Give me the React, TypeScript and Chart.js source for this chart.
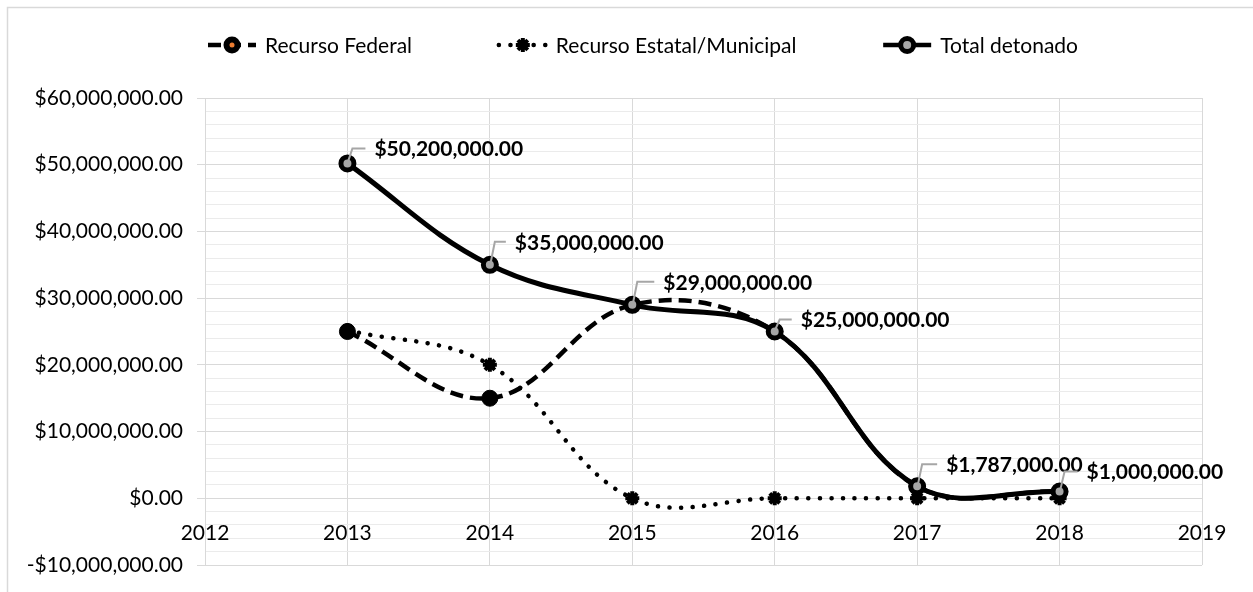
import React, { useEffect, useRef } from 'react';
import { Chart, registerables } from 'chart.js';

Chart.register(...registerables);

// ---------- data ----------
const years = [2013, 2014, 2015, 2016, 2017, 2018];
const federal = [25000000, 15000000, 29000000, 25000000, 1787000, 1000000];
const estatal = [25200000, 20000000, 0, 0, 0, 0];
const total = [50200000, 35000000, 29000000, 25000000, 1787000, 1000000];
const seriesNames = ['Recurso Federal', 'Recurso Estatal/Municipal', 'Total detonado'];
const xMin = 2012;
const xMax = 2019;
const yMin = -10000000;
const yMax = 60000000;
const yMajorStep = 10000000;
const yMinorStep = 2000000;

// label placement (style only, pixels relative to each point)
const labelDx = [27, 25, 31, 26, 29, 27];
const labelDy = [-15, -23, -23, -12, -22, -20];

const FONT = 'Lato';
const FONT_SIZE = 21;

const money = (v: number) => {
  const s = Math.abs(v).toLocaleString('en-US', { minimumFractionDigits: 2, maximumFractionDigits: 2 });
  return (v < 0 ? '-$' : '$') + s;
};

const toPoints = (vals: number[]) => vals.map((v, i) => ({ x: years[i], y: v }));

const FED_DASH = [13, 7];
const EST_DASH = [0.1, 11.5];

function drawMarker(ctx: CanvasRenderingContext2D, kind: number, x: number, y: number, legend: boolean) {
  ctx.save();
  ctx.setLineDash([]);
  if (kind === 0) {
    ctx.fillStyle = '#000';
    ctx.beginPath();
    ctx.arc(x, y, 8.5, 0, Math.PI * 2);
    ctx.fill();
    if (legend) {
      ctx.fillStyle = '#ED7D31';
      ctx.beginPath();
      ctx.arc(x, y, 2.5, 0, Math.PI * 2);
      ctx.fill();
    }
  } else if (kind === 1) {
    ctx.strokeStyle = '#000';
    ctx.lineWidth = 4;
    const r = 7;
    ctx.beginPath();
    ctx.moveTo(x - r, y); ctx.lineTo(x + r, y);
    ctx.moveTo(x, y - r); ctx.lineTo(x, y + r);
    const d = r * Math.SQRT1_2;
    ctx.moveTo(x - d, y - d); ctx.lineTo(x + d, y + d);
    ctx.moveTo(x - d, y + d); ctx.lineTo(x + d, y - d);
    ctx.stroke();
  } else {
    ctx.fillStyle = '#a6a6a6';
    ctx.strokeStyle = '#000';
    ctx.lineWidth = 5;
    ctx.beginPath();
    ctx.arc(x, y, 6.5, 0, Math.PI * 2);
    ctx.fill();
    ctx.stroke();
  }
  ctx.restore();
}

const backgroundPlugin = {
  id: 'bgBorder',
  beforeDraw(chart: any) {
    const { ctx, width, height } = chart;
    ctx.save();
    ctx.fillStyle = '#fff';
    ctx.fillRect(0, 0, width, height);
    ctx.strokeStyle = '#d9d9d9';
    ctx.lineWidth = 1.5;
    ctx.strokeRect(7.5, 7.5, width + 40, height + 40);
    ctx.restore();
  },
};

const legendPlugin = {
  id: 'customLegend',
  afterDraw(chart: any) {
    const ctx: CanvasRenderingContext2D = chart.ctx;
    ctx.save();
    ctx.font = `${FONT_SIZE}px ${FONT}`;
    const symW = 48;
    const gap = 9;
    const left = 208;
    const right = 1078;
    const widths = seriesNames.map((n) => symW + gap + ctx.measureText(n).width);
    const sum = widths.reduce((a, b) => a + b, 0);
    const itemGap = (right - left - sum) / (seriesNames.length - 1);
    let x = left;
    const cy = 45;
    seriesNames.forEach((name, i) => {
      ctx.save();
      ctx.strokeStyle = '#000';
      ctx.lineWidth = 4.5;
      if (i === 0) ctx.setLineDash(FED_DASH);
      if (i === 1) { ctx.setLineDash(EST_DASH); ctx.lineCap = 'round'; }
      ctx.beginPath();
      ctx.moveTo(x, cy);
      ctx.lineTo(x + symW, cy);
      ctx.stroke();
      ctx.restore();
      drawMarker(ctx, i, x + symW / 2, cy, true);
      ctx.fillStyle = '#000';
      ctx.textBaseline = 'middle';
      ctx.textAlign = 'left';
      ctx.fillText(name, x + symW + gap, cy + 1);
      x += widths[i] + itemGap;
    });
    ctx.restore();
  },
};

const labelPlugin = {
  id: 'totalLabels',
  afterDatasetsDraw(chart: any) {
    const ctx: CanvasRenderingContext2D = chart.ctx;
    const meta = chart.getDatasetMeta(2);
    ctx.save();
    meta.data.forEach((pt: any, i: number) => {
      const { x, y } = pt;
      const ly = y + labelDy[i];
      const lx = x + labelDx[i];
      ctx.strokeStyle = '#a6a6a6';
      ctx.lineWidth = 2;
      ctx.beginPath();
      ctx.moveTo(x + 1, y - 3);
      ctx.lineTo(x + 5, ly);
      ctx.lineTo(lx - 9, ly);
      ctx.stroke();
      ctx.font = `bold ${FONT_SIZE}px ${FONT}`;
      ctx.fillStyle = '#000';
      ctx.textBaseline = 'middle';
      ctx.textAlign = 'left';
      ctx.fillText(money(total[i]), lx, ly + 1);
    });
    ctx.restore();
  },
};

export default function App() {
  const ref = useRef<HTMLCanvasElement | null>(null);

  useEffect(() => {
    if (!ref.current) return;
    const isMajor = (v: number) => Math.abs(v % yMajorStep) < 1;
    const chart = new Chart(ref.current, {
      type: 'line',
      data: {
        datasets: [
          {
            label: seriesNames[0],
            data: toPoints(federal),
            borderColor: '#000',
            borderWidth: 4.5,
            borderDash: FED_DASH,
            tension: 0.38,
            pointStyle: 'circle',
            pointRadius: 8,
            pointBackgroundColor: '#000',
            pointBorderColor: '#000',
            pointBorderWidth: 1,
            order: 2,
          },
          {
            label: seriesNames[1],
            data: toPoints(estatal),
            borderColor: '#000',
            borderWidth: 4.5,
            borderDash: EST_DASH,
            borderCapStyle: 'round',
            tension: 0.38,
            pointStyle: 'star',
            pointRadius: 7,
            pointBackgroundColor: '#000',
            pointBorderColor: '#000',
            pointBorderWidth: 4,
            order: 1,
          },
          {
            label: seriesNames[2],
            data: toPoints(total),
            borderColor: '#000',
            borderWidth: 5,
            tension: 0.38,
            pointStyle: 'circle',
            pointRadius: 6.5,
            pointBackgroundColor: '#a6a6a6',
            pointBorderColor: '#000',
            pointBorderWidth: 5,
            order: 0,
          },
        ] as any,
      },
      options: {
        animation: false,
        responsive: false,
        devicePixelRatio: 1,
        layout: { padding: { top: 98, right: 51, bottom: 27, left: 0 } },
        plugins: {
          legend: { display: false },
          tooltip: { enabled: false },
        },
        scales: {
          x: {
            type: 'linear',
            min: xMin,
            max: xMax,
            position: { y: 0 } as any,
            ticks: {
              stepSize: 1,
              callback: (v: any) => String(v),
              color: '#000',
              font: { family: FONT, size: FONT_SIZE },
              padding: 22,
              maxRotation: 0,
            },
            grid: { color: '#d9d9d9', lineWidth: 1, drawTicks: false },
            border: { display: true, color: '#d9d9d9', width: 1 },
          },
          y: {
            min: yMin,
            max: yMax,
            afterFit: (scale: any) => { scale.width = 205; },
            ticks: {
              stepSize: yMinorStep,
              autoSkip: false,
              color: '#000',
              font: { family: FONT, size: FONT_SIZE },
              padding: 14,
              callback: (v: any) => (isMajor(Number(v)) ? money(Number(v)) : ''),
            },
            grid: {
              color: (c: any) => (c.tick && isMajor(c.tick.value) ? '#d9d9d9' : '#ebebeb'),
              tickColor: (c: any) => (c.tick && isMajor(c.tick.value) ? '#d9d9d9' : 'rgba(0,0,0,0)'),
              tickLength: 8,
              lineWidth: 1,
            },
            border: { display: true, color: '#d9d9d9', width: 1 },
          },
        },
      },
      plugins: [backgroundPlugin, labelPlugin, legendPlugin],
    } as any);
    return () => chart.destroy();
  }, []);

  return (
    <div style={{ position: 'fixed', left: 0, top: 0, width: 1253, height: 592, background: '#fff' }}>
      <canvas ref={ref} width={1253} height={592} style={{ display: 'block' }} />
    </div>
  );
}
